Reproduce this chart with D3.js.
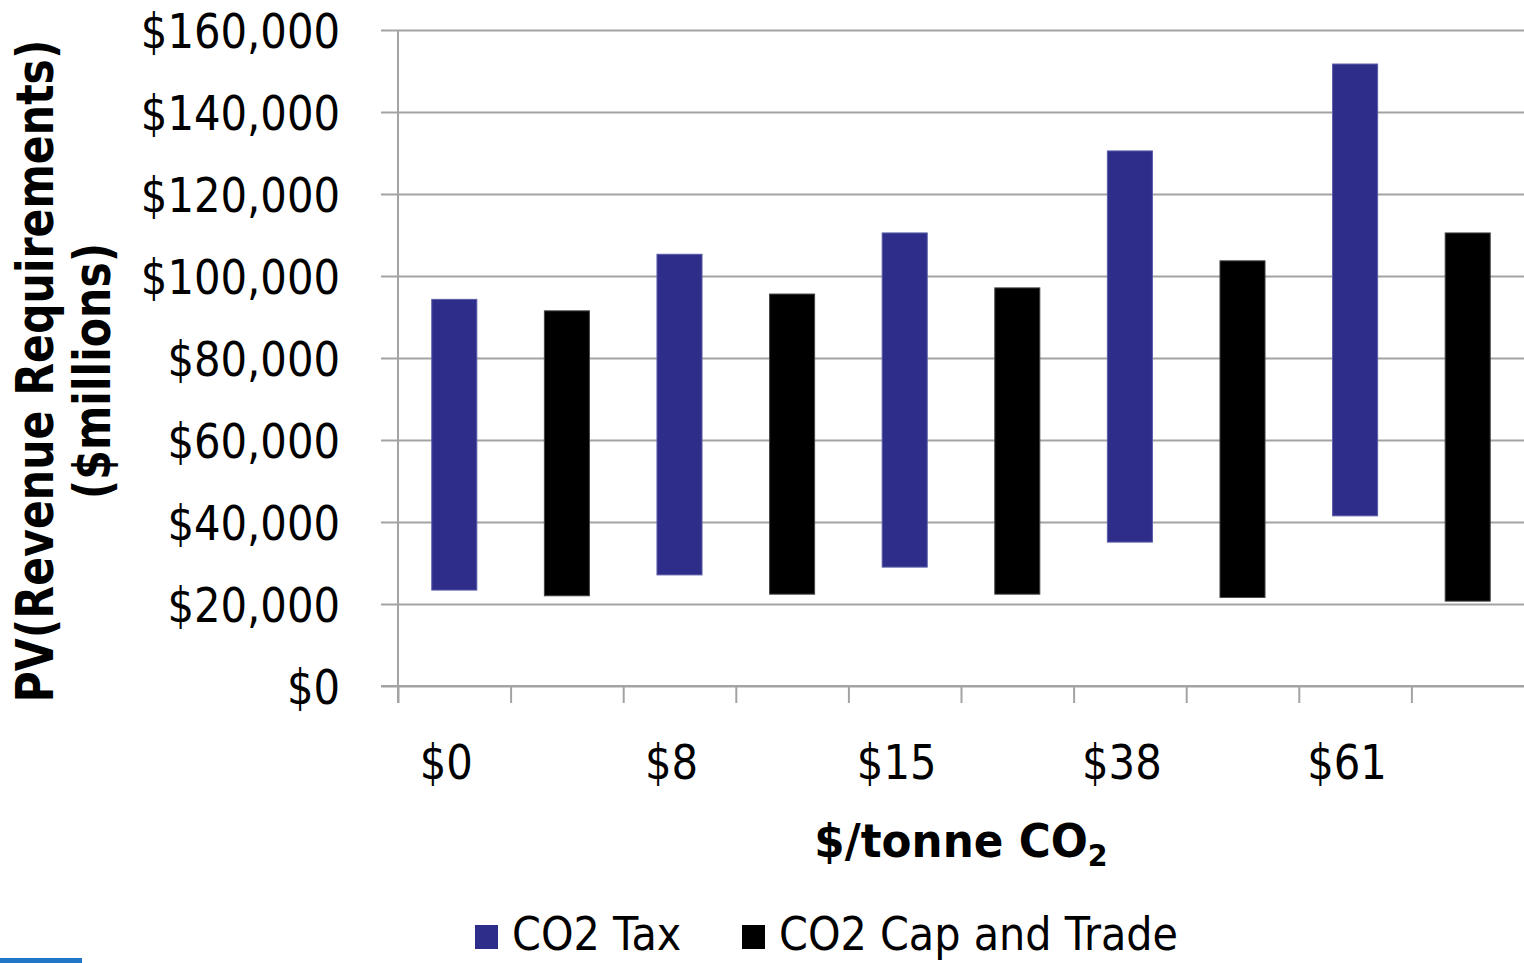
<!DOCTYPE html>
<html>
<head>
<meta charset="utf-8">
<script src="https://cdn.jsdelivr.net/npm/d3@7"></script>
<style>
  html, body { margin: 0; padding: 0; background: #fff; }
  svg { display: block; }
  text { font-family: "DejaVu Sans", Verdana, sans-serif; fill: #000; }
</style>
</head>
<body>
<svg id="chart" width="1524" height="963"></svg>
<script>
// ---- data ----
const categories = ["$0", "$8", "$15", "$38", "$61"];
const seriesNames = ["CO2 Tax", "CO2 Cap and Trade"];
const taxLow  = [23400, 27100, 29000, 35100, 41500];
const taxHigh = [94300, 105300, 110500, 130500, 151700];
const capLow  = [22000, 22400, 22400, 21600, 20700];
const capHigh = [91500, 95600, 97100, 103700, 110500];
const yTickValues = [0, 20000, 40000, 60000, 80000, 100000, 120000, 140000, 160000];
const seriesColors = ["#2E2E8A", "#000000"];

// ---- layout ----
const plotL = 398, plotR = 1524, plotT = 30, plotB = 686;
const cond = 0.87;   // horizontal condensing of text
const svg = d3.select("#chart");

const slots = categories.flatMap(c => seriesNames.map(s => c + "|" + s));
const x = d3.scaleBand().domain(slots).range([plotL, plotR]).paddingInner(0.6).paddingOuter(0.3);
const y = d3.scaleLinear().domain([0, 160000]).range([plotB, plotT]);

// gridlines + y axis ticks
const yAxis = d3.axisLeft(y).tickValues(yTickValues).tickSize(-(plotR - plotL)).tickSizeOuter(0)
  .tickFormat(d => "$" + d3.format(",")(d));
const gy = svg.append("g").attr("transform", `translate(${plotL},0)`).call(yAxis);
gy.select(".domain").remove();
gy.selectAll(".tick line").attr("x1", -17).attr("stroke", "#a3a3a3").attr("stroke-width", 2);
gy.selectAll(".tick text")
  .attr("x", -58 / cond).attr("dy", "0.36em")
  .attr("transform", `scale(${cond},1)`)
  .style("font-size", "48px").style("font-family", '"DejaVu Sans", sans-serif').attr("fill", "#000");

// y axis line
svg.append("line").attr("x1", plotL).attr("x2", plotL).attr("y1", plotT).attr("y2", plotB + 17)
  .attr("stroke", "#a3a3a3").attr("stroke-width", 2);

// x axis ticks at slot boundaries
const xb = d3.scaleLinear().domain([0, slots.length]).range([plotL, plotR]);
const xAxis = d3.axisBottom(xb).tickValues(d3.range(0, slots.length)).tickSize(17).tickSizeOuter(0).tickFormat("");
const gx = svg.append("g").attr("transform", `translate(0,${plotB})`).call(xAxis);
gx.select(".domain").remove();
gx.selectAll(".tick line").attr("stroke", "#a3a3a3").attr("stroke-width", 2);
svg.append("line").attr("x1", plotL - 17).attr("x2", plotR).attr("y1", plotB).attr("y2", plotB)
  .attr("stroke", "#a3a3a3").attr("stroke-width", 2);

// bars
const bars = [];
categories.forEach((c, i) => {
  bars.push({ slot: c + "|" + seriesNames[0], lo: taxLow[i], hi: taxHigh[i], s: 0 });
  bars.push({ slot: c + "|" + seriesNames[1], lo: capLow[i], hi: capHigh[i], s: 1 });
});
svg.append("g").selectAll("rect").data(bars).join("rect")
  .attr("x", d => x(d.slot))
  .attr("width", x.bandwidth())
  .attr("y", d => y(d.hi))
  .attr("height", d => y(d.lo) - y(d.hi))
  .attr("fill", d => seriesColors[d.s])
  .attr("stroke", d => d.s === 0 ? "#5a5aa8" : "#444")
  .attr("stroke-width", 1);

// x category labels
svg.append("g").selectAll("text").data(categories).join("text")
  .attr("transform", c => `translate(${x(c + "|" + seriesNames[0]) + x.bandwidth() / 2 - 8},779) scale(${cond},1)`)
  .attr("text-anchor", "middle")
  .style("font-size", "48px")
  .text(c => c);

// x axis title
const xt = svg.append("text")
  .attr("transform", `translate(961,857) scale(0.95,1)`)
  .attr("text-anchor", "middle")
  .style("font-size", "46px").style("font-weight", "bold");
xt.append("tspan").text("$/tonne CO");
xt.append("tspan").attr("dy", 9).style("font-size", "30px").text("2");

// y axis title
const ytLines = ["PV(Revenue Requirements)", "($millions)"];
const ytX = [53, 110];
ytLines.forEach((t, i) => {
  svg.append("text")
    .attr("transform", `translate(${ytX[i]},371) rotate(-90) scale(0.82,1)`)
    .attr("text-anchor", "middle")
    .style("font-size", "52px").style("font-weight", "bold")
    .text(t);
});

// legend
const legX = [475, 742];
const lg = svg.append("g");
seriesNames.forEach((s, i) => {
  lg.append("rect").attr("x", legX[i]).attr("y", 925).attr("width", 23).attr("height", 24)
    .attr("fill", seriesColors[i]);
  lg.append("text")
    .attr("transform", `translate(${legX[i] + 37},950) scale(0.9,1)`)
    .style("font-size", "46px")
    .text(s);
});

// slide accent line bottom-left
svg.append("rect").attr("x", 0).attr("y", 958).attr("width", 82).attr("height", 5).attr("fill", "#2176c8");
</script>
</body>
</html>
